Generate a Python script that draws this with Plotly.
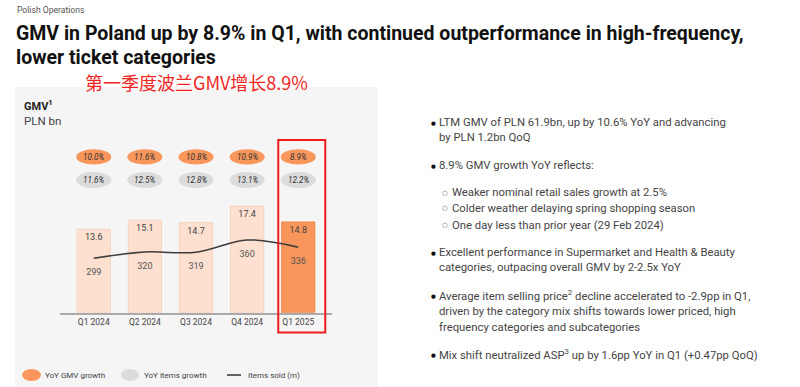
import plotly.graph_objects as go

# ---------------- data ----------------
quarters = ["Q1 2024", "Q2 2024", "Q3 2024", "Q4 2024", "Q1 2025"]
gmv_bn = [13.6, 15.1, 14.7, 17.4, 14.8]
items_sold_m = [299, 320, 319, 360, 336]
yoy_gmv_growth = [10.0, 11.6, 10.8, 10.9, 8.9]
yoy_items_growth = [11.6, 12.5, 12.8, 13.1, 12.2]

W, H = 800, 387
FONT = "Roboto"

def py(y):  # pixel-from-top -> paper
    return 1 - y / H

def px(x):
    return x / W

bar_colors = ["#fde0cf"] * 4 + ["#f8965b"]
bar_lines = ["#f6d2bf"] * 4 + ["#f08a4e"]

fig = go.Figure()
fig.add_trace(go.Bar(
    x=quarters, y=gmv_bn, width=0.65,
    marker=dict(color=bar_colors, line=dict(color=bar_lines, width=1)),
    text=[f"{v:.1f}" for v in gmv_bn], textposition="inside",
    insidetextanchor="end", textangle=0,
    textfont=dict(family=FONT, size=9, color="#444"),
    constraintext="none", cliponaxis=False,
    hoverinfo="skip", showlegend=False,
))
fig.add_trace(go.Scatter(
    x=quarters, y=items_sold_m, yaxis="y2", mode="lines+markers+text",
    line=dict(color="#3d3d3d", width=1.5, shape="spline", smoothing=1.0),
    marker=dict(size=14, color="rgba(0,0,0,0)"),
    text=[str(v) for v in items_sold_m], textposition="bottom center",
    textfont=dict(family=FONT, size=9, color="#555"),
    hoverinfo="skip", showlegend=False, cliponaxis=False,
))

base_y, top_y = 312.7, 140.0
fig.update_layout(
    width=W, height=H, margin=dict(l=0, r=0, t=0, b=0),
    paper_bgcolor="white", plot_bgcolor="rgba(0,0,0,0)",
    font=dict(family=FONT),
    xaxis=dict(domain=[px(60), px(332)], range=[-0.66, 4.66],
               showline=True, linecolor="#aaaaaa", linewidth=1.5,
               ticks="", showgrid=False, zeroline=False,
               tickfont=dict(family=FONT, size=8.5, color="#444")),
    yaxis=dict(domain=[py(base_y), py(top_y)], range=[0, (base_y - top_y) / 6.13],
               visible=False, showgrid=False, zeroline=False),
    yaxis2=dict(overlaying="y", range=[117.7, 117.7 + (base_y - top_y) / 0.3],
                visible=False, showgrid=False, zeroline=False),
)

shapes = []
ann = []

def text(x, y, t, size, color="#444", family=FONT, xanchor="left", xref="paper"):
    ann.append(dict(x=x, y=py(y), xref=xref, yref="paper", xanchor=xanchor,
                    yanchor="middle", text=t, showarrow=False,
                    font=dict(family=family, size=size, color=color)))

# grey panel
shapes.append(dict(type="rect", xref="paper", yref="paper", layer="below",
                   x0=px(15), x1=px(378), y0=0, y1=py(87),
                   fillcolor="#f5f5f5", line=dict(width=0)))

# ellipses with growth values
for i, (g, it) in enumerate(zip(yoy_gmv_growth, yoy_items_growth)):
    shapes.append(dict(type="circle", xref="x", yref="paper", xsizemode="pixel",
                       xanchor=quarters[i], x0=-17.5, x1=17.5,
                       y0=py(164.5), y1=py(149.3),
                       fillcolor="#f8965b", line=dict(width=0)))
    shapes.append(dict(type="circle", xref="x", yref="paper", xsizemode="pixel",
                       xanchor=quarters[i], x0=-17.5, x1=17.5,
                       y0=py(188), y1=py(172),
                       fillcolor="#dcdcdc", line=dict(width=0)))
    text(quarters[i], 157, f"<i>{g:.1f}%</i>", 8.2, "#333", xanchor="center", xref="x")
    text(quarters[i], 180, f"<i>{it:.1f}%</i>", 8.2, "#333", xanchor="center", xref="x")

# red highlight rectangle
shapes.append(dict(type="rect", xref="x", yref="paper", xsizemode="pixel",
                   xanchor=quarters[4], x0=-20, x1=27,
                   y0=py(332.5), y1=py(140),
                   line=dict(color="#ee1c1c", width=2), fillcolor="rgba(0,0,0,0)"))

# legend
shapes.append(dict(type="circle", xref="paper", yref="paper",
                   x0=px(22), x1=px(41), y0=py(381), y1=py(369),
                   fillcolor="#f8965b", line=dict(width=0)))
shapes.append(dict(type="circle", xref="paper", yref="paper",
                   x0=px(121), x1=px(139), y0=py(381), y1=py(369),
                   fillcolor="#dcdcdc", line=dict(width=0)))
shapes.append(dict(type="line", xref="paper", yref="paper",
                   x0=px(227), x1=px(241), y0=py(375), y1=py(375),
                   line=dict(color="#3d3d3d", width=1.6)))
for x, t in [(43, "YoY GMV growth"), (142, "YoY items growth"), (246, "Items sold (m)")]:
    text(px(x), 375, t, 8, "#444")

# titles
text(px(15), 10, "Polish Operations", 8.6, "#555")
text(px(14), 33, "<b>GMV in Poland up by 8.9% in Q1, with continued outperformance in high-frequency,</b>",
     19.5, "#111")
text(px(14), 57, "<b>lower ticket categories</b>", 19.5, "#111")
text(px(83), 82, "第一季度波兰GMV增长8.9%", 18, "#f0261e", family="Noto Sans CJK SC")
text(px(22), 105, "<b>GMV<sup>1</sup></b>", 11, "#222")
text(px(22), 121, "PLN bn", 11.5, "#444")

# right-side bullet text
bullets = [
    (122.7, "•", "LTM GMV of PLN 61.9bn, up by 10.6% YoY and advancing"),
    (137.7, "", "by PLN 1.2bn QoQ"),
    (165, "•", "8.9% GMV growth YoY reflects:"),
    (252.7, "•", "Excellent performance in Supermarket and Health &amp; Beauty"),
    (267.7, "", "categories, outpacing overall GMV by 2-2.5x YoY"),
    (295, "•", "Average item selling price<sup>2</sup> decline accelerated to -2.9pp in Q1,"),
    (311, "", "driven by the category mix shifts towards lower priced, high"),
    (327.3, "", "frequency categories and subcategories"),
    (354.3, "•", "Mix shift neutralized ASP<sup>3</sup> up by 1.6pp YoY in Q1 (+0.47pp QoQ)"),
]
for y, b, t in bullets:
    if b:
        text(px(429), y + 0.5, "●", 5.5, "#111", family="DejaVu Sans")
    text(px(437), y, t, 11.3, "#444")
subs = [(192.7, "Weaker nominal retail sales growth at 2.5%"),
        (208.3, "Colder weather delaying spring shopping season"),
        (225, "One day less than prior year (29 Feb 2024)")]
for y, t in subs:
    text(px(440), y, "○", 6.5, "#444", family="DejaVu Sans")
    text(px(449.5), y, t, 11.3, "#444")

fig.update_layout(shapes=shapes, annotations=ann)
fig.write_html("out.html", config={"displayModeBar": False},
               post_script="document.body.style.margin='0';")
